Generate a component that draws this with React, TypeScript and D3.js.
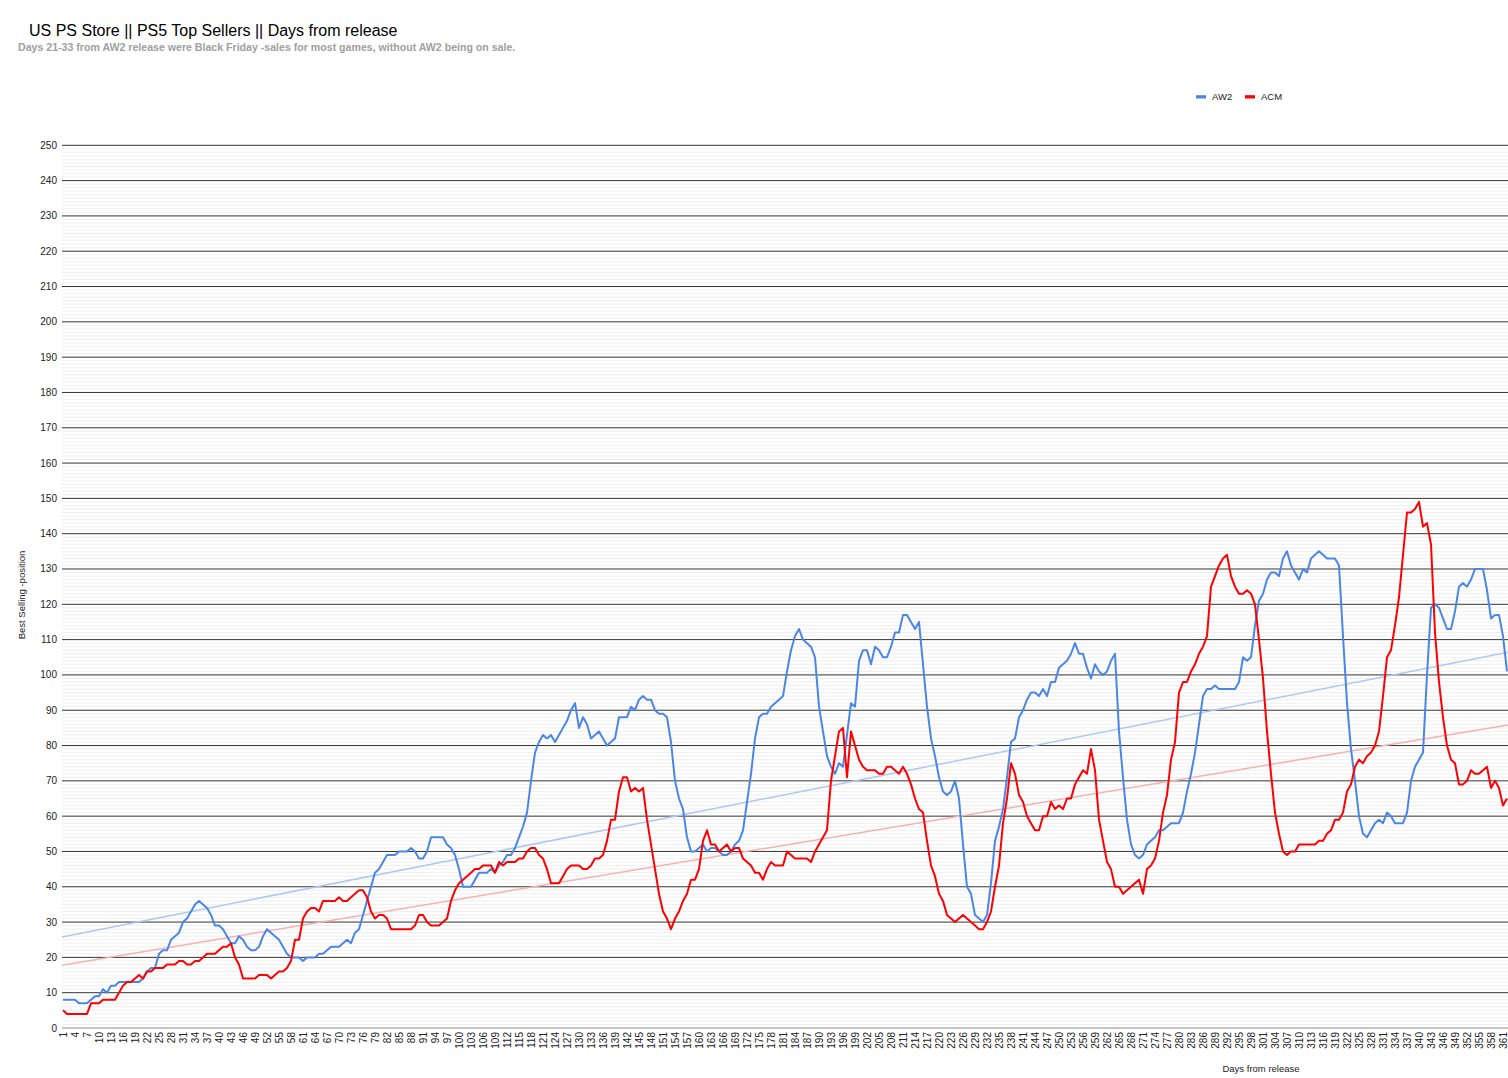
import React, { useEffect, useRef } from 'react';
import * as d3 from 'd3';

// Best selling position per day from release
const AW2 = [
    8, 8, 8, 8, 7, 7, 7, 8, 9, 9,
    11, 10, 12, 12, 13, 13, 13, 13, 13, 13,
    14, 16, 17, 17, 21, 22, 22, 25, 26, 27,
    30, 31, 33, 35, 36, 35, 34, 32, 29, 29,
    28, 26, 24, 24, 26, 25, 23, 22, 22, 23,
    26, 28, 27, 26, 25, 23, 21, 20, 20, 20,
    19, 20, 20, 20, 21, 21, 22, 23, 23, 23,
    24, 25, 24, 27, 28, 32, 36, 40, 44, 45,
    47, 49, 49, 49, 50, 50, 50, 51, 50, 48,
    48, 50, 54, 54, 54, 54, 52, 51, 49, 45,
    40, 40, 40, 42, 44, 44, 44, 45, 44, 46,
    47, 49, 49, 51, 54, 57, 61, 70, 78, 81,
    83, 82, 83, 81, 83, 85, 87, 90, 92, 85,
    88, 86, 82, 83, 84, 82, 80, 81, 82, 88,
    88, 88, 91, 90, 93, 94, 93, 93, 90, 89,
    89, 88, 81, 70, 65, 62, 54, 50, 50, 51,
    52, 50, 51, 51, 50, 49, 49, 50, 52, 53,
    56, 64, 72, 82, 88, 89, 89, 91, 92, 93,
    94, 101, 107, 111, 113, 110, 109, 108, 105, 91,
    84, 77, 74, 72, 75, 74, 83, 92, 91, 104,
    107, 107, 103, 108, 107, 105, 105, 108, 112, 112,
    117, 117, 115, 113, 115, 103, 91, 82, 77, 71,
    67, 66, 67, 70, 65, 52, 40, 38, 32, 31,
    30, 32, 41, 53, 57, 62, 71, 81, 82, 88,
    90, 93, 95, 95, 94, 96, 94, 98, 98, 102,
    103, 104, 106, 109, 106, 106, 102, 99, 103, 101,
    100, 101, 104, 106, 84, 71, 59, 52, 49, 48,
    49, 52, 53, 54, 56, 56, 57, 58, 58, 58,
    61, 67, 72, 78, 86, 94, 96, 96, 97, 96,
    96, 96, 96, 96, 98, 105, 104, 105, 114, 121,
    123, 127, 129, 129, 128, 133, 135, 131, 129, 127,
    130, 129, 133, 134, 135, 134, 133, 133, 133, 131,
    111, 92, 79, 70, 60, 55, 54, 56, 58, 59,
    58, 61, 60, 58, 58, 58, 61, 70, 74, 76,
    78, 100, 119, 120, 119, 116, 113, 113, 118, 125,
    126, 125, 127, 130, 130, 130, 124, 116, 117, 117,
    111, 101
];

const ACM = [
    5, 4, 4, 4, 4, 4, 4, 7, 7, 7,
    8, 8, 8, 8, 10, 12, 13, 13, 14, 15,
    14, 16, 16, 17, 17, 17, 18, 18, 18, 19,
    19, 18, 18, 19, 19, 20, 21, 21, 21, 22,
    23, 23, 24, 20, 18, 14, 14, 14, 14, 15,
    15, 15, 14, 15, 16, 16, 17, 19, 25, 25,
    31, 33, 34, 34, 33, 36, 36, 36, 36, 37,
    36, 36, 37, 38, 39, 39, 37, 33, 31, 32,
    32, 31, 28, 28, 28, 28, 28, 28, 29, 32,
    32, 30, 29, 29, 29, 30, 31, 36, 39, 41,
    42, 43, 44, 45, 45, 46, 46, 46, 44, 47,
    46, 47, 47, 47, 48, 48, 50, 51, 51, 49,
    48, 45, 41, 41, 41, 43, 45, 46, 46, 46,
    45, 45, 46, 48, 48, 49, 53, 59, 59, 67,
    71, 71, 67, 68, 67, 68, 59, 52, 45, 38,
    33, 31, 28, 31, 33, 36, 38, 42, 42, 45,
    53, 56, 52, 52, 50, 51, 52, 50, 51, 51,
    48, 47, 46, 44, 44, 42, 45, 47, 46, 46,
    46, 50, 49, 48, 48, 48, 48, 47, 50, 52,
    54, 56, 70, 77, 84, 85, 71, 84, 80, 76,
    74, 73, 73, 73, 72, 72, 74, 74, 73, 72,
    74, 72, 69, 65, 62, 61, 53, 46, 43, 38,
    36, 32, 31, 30, 31, 32, 31, 30, 29, 28,
    28, 30, 33, 40, 46, 58, 65, 75, 72, 66,
    64, 60, 58, 56, 56, 60, 60, 64, 62, 63,
    62, 65, 65, 69, 71, 73, 72, 79, 73, 59,
    53, 47, 45, 40, 40, 38, 39, 40, 41, 42,
    38, 45, 46, 48, 53, 61, 66, 76, 81, 95,
    98, 98, 101, 103, 106, 108, 111, 125, 128, 131,
    133, 134, 128, 125, 123, 123, 124, 123, 120, 110,
    99, 84, 72, 61, 55, 50, 49, 50, 50, 52,
    52, 52, 52, 52, 53, 53, 55, 56, 59, 59,
    61, 67, 69, 74, 76, 75, 77, 78, 80, 84,
    94, 105, 107, 114, 122, 134, 146, 146, 147, 149,
    142, 143, 137, 112, 98, 88, 80, 76, 75, 69,
    69, 70, 73, 72, 72, 73, 74, 68, 70, 68,
    63, 65
];

// linear trendline values at the first and last visible day
const AW2_TREND = [25.8, 106.4];
const ACM_TREND = [17.8, 85.8];

const SERIES_NAMES = ['AW2', 'ACM'];
const COLORS = ['#4a86e8', '#ff0000'];
const TREND_COLORS = ['#adc8f5', '#f7b0b0'];
const Y_TICKS = d3.range(0, 251, 10);
const X_TICKS = d3.range(1, 362, 3);

const TITLE = 'US PS Store || PS5 Top Sellers || Days from release';
const SUBTITLE = 'Days 21-33 from AW2 release were Black Friday -sales for most games, without AW2 being on sale.';

const WIDTH = 1508;
const HEIGHT = 1078;
const PLOT = { left: 62, right: 1508, top: 145.3, bottom: 1028 };
const FONT = '"Liberation Sans", Arial, sans-serif';

const App = () => {
    const ref = useRef<SVGSVGElement>(null);

    useEffect(() => {
        const svg = d3.select(ref.current);
        svg.selectAll('*').remove();

        const xScale = d3.scaleLinear().domain([1, AW2.length]).range([63, 1507]);
        const yScale = d3.scaleLinear().domain([0, 250]).range([PLOT.bottom, PLOT.top]);

        // minor gridlines
        svg.append('g')
            .selectAll('line')
            .data(d3.range(0, 250, 1).filter(v => v % 10 !== 0))
            .enter().append('line')
            .attr('x1', PLOT.left).attr('x2', PLOT.right)
            .attr('y1', d => yScale(d)).attr('y2', d => yScale(d))
            .attr('stroke', '#efefef')
            .attr('stroke-width', 1);

        // major gridlines
        svg.append('g')
            .selectAll('line')
            .data(Y_TICKS)
            .enter().append('line')
            .attr('x1', PLOT.left).attr('x2', PLOT.right)
            .attr('y1', d => yScale(d)).attr('y2', d => yScale(d))
            .attr('stroke', d => d === 0 ? '#8a8a8a' : '#333333')
            .attr('stroke-width', 1);

        // y tick labels
        svg.append('g')
            .selectAll('text')
            .data(Y_TICKS)
            .enter().append('text')
            .attr('x', 57)
            .attr('y', d => yScale(d) + 3.5)
            .attr('text-anchor', 'end')
            .style('font-family', FONT)
            .style('font-size', '10px')
            .attr('fill', '#222')
            .text(d => d);

        // x tick labels, rotated
        svg.append('g')
            .selectAll('text')
            .data(X_TICKS)
            .enter().append('text')
            .attr('transform', d => 'translate(' + xScale(d) + ',' + 1032 + ') rotate(-90)')
            .attr('dy', '0.35em')
            .attr('text-anchor', 'end')
            .style('font-family', FONT)
            .style('font-size', '10px')
            .attr('fill', '#222')
            .text(d => d);

        // trend lines
        [AW2_TREND, ACM_TREND].forEach((trend, i) => {
            const trendX = d3.scaleLinear().domain([0, 1]).range([PLOT.left, PLOT.right]);
            svg.append('line')
                .attr('x1', trendX(0)).attr('x2', trendX(1))
                .attr('y1', yScale(trend[0]))
                .attr('y2', yScale(trend[1]))
                .attr('stroke', TREND_COLORS[i])
                .attr('stroke-width', 1.5);
        });

        const line = d3.line<number>()
            .x((_, i) => xScale(i + 1))
            .y(d => yScale(d));

        // series lines
        [AW2, ACM].forEach((values, i) => {
            svg.append('path')
                .datum(values)
                .attr('fill', 'none')
                .attr('stroke', COLORS[i])
                .attr('stroke-width', 2)
                .attr('stroke-linejoin', 'round')
                .attr('d', line);
        });

        // title + subtitle
        svg.append('text')
            .attr('x', 29).attr('y', 36)
            .style('font-family', FONT)
            .style('font-size', '16px')
            .attr('fill', '#000')
            .text(TITLE);

        svg.append('text')
            .attr('x', 18).attr('y', 50.5)
            .style('font-family', FONT)
            .style('font-size', '10.6px')
            .style('font-weight', 'bold')
            .attr('fill', '#a0a0a0')
            .text(SUBTITLE);

        // legend
        const legendX = [1196, 1245];
        SERIES_NAMES.forEach((name, i) => {
            svg.append('rect')
                .attr('x', legendX[i]).attr('y', 95.2)
                .attr('width', 10).attr('height', 3.3)
                .attr('fill', COLORS[i]);
            svg.append('text')
                .attr('x', legendX[i] + 16).attr('y', 100)
                .style('font-family', FONT)
                .style('font-size', '9.5px')
                .attr('fill', '#222')
                .text(name);
        });

        // axis titles
        svg.append('text')
            .attr('transform', 'translate(25,595) rotate(-90)')
            .attr('text-anchor', 'middle')
            .style('font-family', FONT)
            .style('font-size', '9.5px')
            .attr('fill', '#222')
            .text('Best Selling -position');

        svg.append('text')
            .attr('x', 1261).attr('y', 1071.5)
            .attr('text-anchor', 'middle')
            .style('font-family', FONT)
            .style('font-size', '9.5px')
            .attr('fill', '#222')
            .text('Days from release');
    }, []);

    return (
        <svg ref={ref} width={WIDTH} height={HEIGHT}
            style={{ position: 'absolute', left: 0, top: 0, background: '#fff' }} />
    );
};

export default App;
